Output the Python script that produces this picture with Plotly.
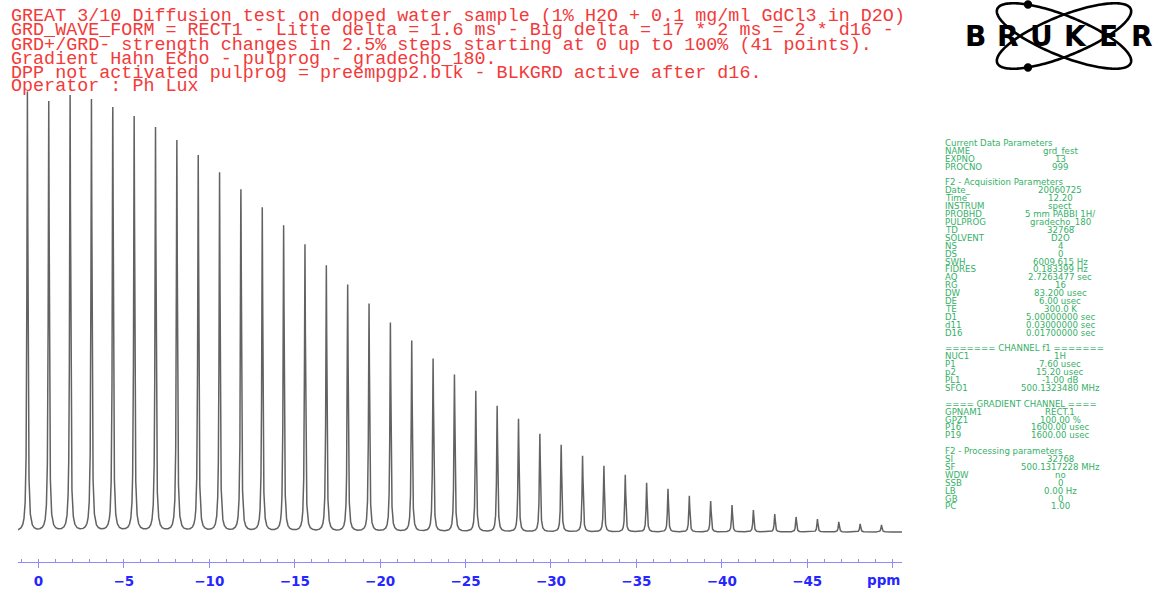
import numpy as np
import plotly.graph_objects as go

W, H = 1160, 601

# ---- spectrum data: one water line per gradient step (41 steps) ----
peak_ppm = [0.65, -0.60, -1.85, -3.10, -4.35, -5.60, -6.85, -8.10, -9.35, -10.60,
            -11.85, -13.10, -14.35, -15.60, -16.85, -18.10, -19.35, -20.60, -21.85, -23.10,
            -24.35, -25.60, -26.85, -28.10, -29.35, -30.60, -31.85, -33.10, -34.35, -35.60,
            -36.85, -38.10, -39.35, -40.60, -41.85, -43.10, -44.35, -45.60, -46.85, -48.10,
            -49.35]
peak_int = [440, 430, 436, 432, 424, 415, 404, 391, 376, 359,
            342, 324, 306, 287, 266, 247, 228, 209, 191, 173,
            157, 141, 126, 113, 98, 87, 76, 66, 57, 49,
            43, 36, 31, 27, 22, 18, 15, 13, 10, 8,
            7]
line_hwhm = 0.035  # ppm

tick_vals = [0, -5, -10, -15, -20, -25, -30, -35, -40, -45, -50]
tick_text = ["0", "\u22125", "\u221210", "\u221215", "\u221220", "\u221225",
             "\u221230", "\u221235", "\u221240", "\u221245", ""]

title_lines = [
    "GREAT 3/10 Diffusion test on doped water sample (1% H2O + 0.1 mg/ml GdCl3 in D2O)",
    "GRD_WAVE_FORM = RECT1 - Litte delta = 1.6 ms - Big delta = 17 * 2 ms = 2 * d16 -",
    "GRD+/GRD- strength changes in 2.5% steps starting at 0 up to 100% (41 points).",
    "Gradient Hahn Echo - pulprog - gradecho_180.",
    "DPP not activated pulprog = preempgp2.blk - BLKGRD active after d16.",
    "Operator : Ph Lux",
]

# parameter table: (name, value); empty name+value = spacer row, value None = heading
param_rows = [
    ("Current Data Parameters", None),
    ("NAME", "grd_fest"), ("EXPNO", "13"), ("PROCNO", "999"),
    ("", ""),
    ("F2 - Acquisition Parameters", None),
    ("Date_", "20060725"), ("Time", "12.20"), ("INSTRUM", "spect"),
    ("PROBHD", "5 mm PABBI 1H/"), ("PULPROG", "gradecho_180"), ("TD", "32768"),
    ("SOLVENT", "D2O"), ("NS", "4"), ("DS", "0"), ("SWH", "6009.615 Hz"),
    ("FIDRES", "0.183399 Hz"), ("AQ", "2.7263477 sec"), ("RG", "16"),
    ("DW", "83.200 usec"), ("DE", "6.00 usec"), ("TE", "300.0 K"),
    ("D1", "5.00000000 sec"), ("d11", "0.03000000 sec"), ("D16", "0.01700000 sec"),
    ("", ""),
    ("======= CHANNEL f1 =======", None),
    ("NUC1", "1H"), ("P1", "7.60 usec"), ("p2", "15.20 usec"), ("PL1", "-1.00 dB"),
    ("SFO1", "500.1323480 MHz"),
    ("", ""),
    ("==== GRADIENT CHANNEL ====", None),
    ("GPNAM1", "RECT.1"), ("GPZ1", "100.00 %"), ("P16", "1600.00 usec"),
    ("P19", "1600.00 usec"),
    ("", ""),
    ("F2 - Processing parameters", None),
    ("SI", "32768"), ("SF", "500.1317228 MHz"), ("WDW", "no"), ("SSB", "0"),
    ("LB", "0.00 Hz"), ("GB", "0"), ("PC", "1.00"),
]

logo_text = "BRUKER"

# ---- colours / fonts ----
RED = "#f23a3a"
GREEN = "#36b068"
BLUE_TXT = "#2626ff"
BLUE_AX = "#8c8cff"
SPEC = "#626262"


def px(x):
    return x / W


def py(y):
    return 1 - y / H


# ---- spectrum curve: sum of Lorentzian lines ----
grid = np.linspace(1.2, -50.55, 40000)
grid = np.sort(np.concatenate([grid, np.array(peak_ppm)]))[::-1]
spec = np.zeros_like(grid)
for c, h in zip(peak_ppm, peak_int):
    spec += h * line_hwhm ** 2 / ((grid - c) ** 2 + line_hwhm ** 2)

fig = go.Figure()
fig.add_trace(go.Scatter(
    x=grid, y=spec, mode="lines",
    line=dict(color=SPEC, width=1.5),
    hoverinfo="skip", showlegend=False,
))

annotations = []

# header text block
for i, line in enumerate(title_lines):
    annotations.append(dict(
        x=px(9), y=py(17 + 14 * i), xref="paper", yref="paper",
        xanchor="left", yanchor="middle", showarrow=False, text=line,
        font=dict(family="Liberation Mono", size=18.4, color=RED),
    ))

# parameter panel
row_step = 7.9
for i, (name, val) in enumerate(param_rows):
    y = py(143 + row_step * i)
    if name:
        annotations.append(dict(
            x=px(943), y=y, xref="paper", yref="paper", xanchor="left",
            yanchor="middle", showarrow=False, text=name,
            font=dict(family="DejaVu Sans", size=8.6, color=GREEN),
        ))
    if val:
        annotations.append(dict(
            x=px(1060), y=y, xref="paper", yref="paper", xanchor="center",
            yanchor="middle", showarrow=False, text=val,
            font=dict(family="DejaVu Sans", size=8.6, color=GREEN),
        ))

# axis unit
annotations.append(dict(
    x=px(902), y=py(580), xref="paper", yref="paper", xanchor="right",
    yanchor="middle", showarrow=False, text="ppm",
    font=dict(family="DejaVu Sans", size=13.5, color=BLUE_TXT, weight="bold"),
))

# logo lettering
for i, ch in enumerate(logo_text):
    annotations.append(dict(
        x=px(975 + 33.4 * i), y=py(37), xref="paper", yref="paper",
        xanchor="center", yanchor="middle", showarrow=False, text=ch,
        font=dict(family="DejaVu Sans", size=28, color="black", weight="bold"),
    ))


def ellipse_path(cx, cy, a, b, ang_deg, n=160):
    t = np.linspace(0, 2 * np.pi, n)
    ang = np.radians(ang_deg)
    xs = cx + a * np.cos(t) * np.cos(ang) - b * np.sin(t) * np.sin(ang)
    ys = cy + a * np.cos(t) * np.sin(ang) + b * np.sin(t) * np.cos(ang)
    return "M " + " L ".join(f"{px(x):.5f},{py(y):.5f}" for x, y in zip(xs, ys)) + " Z"


shapes = []
for ang in (22, -22):
    shapes.append(dict(type="path", xref="paper", yref="paper",
                       path=ellipse_path(1064, 36, 72, 20, ang),
                       line=dict(color="black", width=2.6), layer="below"))
for cy in (4.5, 67.5):
    r = 4.2
    shapes.append(dict(type="circle", xref="paper", yref="paper",
                       x0=px(1028 - r), x1=px(1028 + r), y0=py(cy - r), y1=py(cy + r),
                       fillcolor="black", line=dict(color="black", width=0)))

fig.update_layout(
    width=W, height=H,
    margin=dict(l=0, r=0, t=0, b=0),
    paper_bgcolor="white", plot_bgcolor="white",
    xaxis=dict(
        domain=[px(18), px(902)], range=[1.2, -50.55],
        showline=True, linecolor=BLUE_AX, linewidth=1,
        ticks="outside", ticklen=5, tickcolor=BLUE_AX, tickwidth=1,
        tickmode="array", tickvals=tick_vals, ticktext=tick_text,
        tickfont=dict(family="DejaVu Sans", size=13.5, color=BLUE_TXT, weight="bold"),
        ticklabelstandoff=2,
        minor=dict(tickmode="linear", tick0=0, dtick=1, ticks="inside",
                   ticklen=3, tickcolor=BLUE_AX),
        showgrid=False, zeroline=False, fixedrange=True,
    ),
    yaxis=dict(
        domain=[(H - 562) / H, 1], range=[-30, 532],
        visible=False, fixedrange=True,
    ),
    annotations=annotations,
    shapes=shapes,
    showlegend=False,
)

fig.write_html("out.html")
